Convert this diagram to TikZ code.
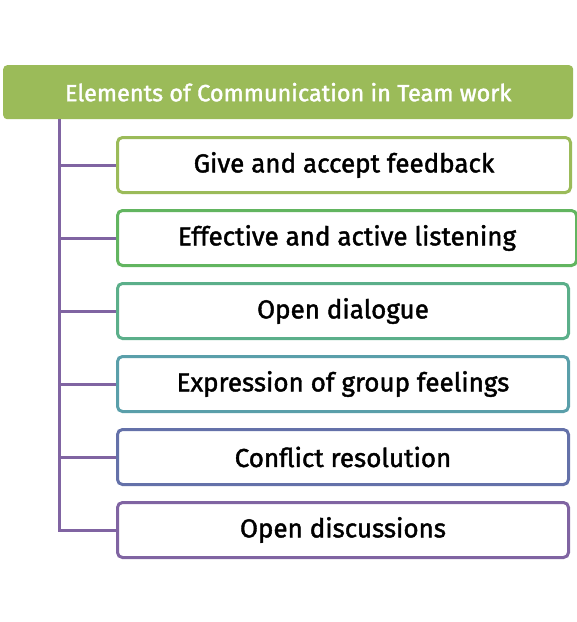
\documentclass[tikz,border=0pt]{standalone}
\usepackage{fontspec}
\setmainfont{Fira Sans}
\newfontfamily\medfont{Fira Sans}[FakeBold=1.6]
\usetikzlibrary{positioning}

\definecolor{headgreen}{HTML}{9BBB59}
\definecolor{itemA}{HTML}{9BBB59}
\definecolor{itemB}{HTML}{62B560}
\definecolor{itemC}{HTML}{5BAF8A}
\definecolor{itemD}{HTML}{5A9FAA}
\definecolor{itemE}{HTML}{6471A9}
\definecolor{itemF}{HTML}{8064A2}
\definecolor{branchpurple}{HTML}{8064A2}

\tikzset{
  headbox/.style={fill=headgreen, rounded corners=4pt, anchor=north west,
    minimum width=570pt, minimum height=54pt, text=white,
    font=\medfont\fontsize{23.5}{27}\selectfont},
  itembox/.style={draw=#1, line width=3pt, rounded corners=5pt, fill=white,
    anchor=west, minimum height=55pt, text=black,
    font=\medfont\fontsize{26}{30}\selectfont},
  branch/.style={draw=branchpurple, line width=3pt},
}

\begin{document}
\begin{tikzpicture}[x=1pt, y=-1pt]
  \useasboundingbox (0,0) rectangle (577,622);

  \node[headbox] (head) at (3,65) {Elements of Communication in Team work};

  \node[itembox=itemA, minimum width=453pt] (give) at (116,165) {Give and accept feedback};
  \node[itembox=itemB, minimum width=459pt] (listen) at (116,238) {Effective and active listening};
  \node[itembox=itemC, minimum width=451pt] (dialogue) at (116,311) {Open dialogue};
  \node[itembox=itemD, minimum width=451pt] (feelings) at (116,384) {Expression of group feelings};
  \node[itembox=itemE, minimum width=451pt] (conflict) at (116,457) {Conflict resolution};
  \node[itembox=itemF, minimum width=451pt] (discuss) at (116,530) {Open discussions};

  \coordinate (trunk) at (59,119);

  \draw[branch] (trunk) |- (give.west);
  \draw[branch] (trunk) |- (listen.west);
  \draw[branch] (trunk) |- (dialogue.west);
  \draw[branch] (trunk) |- (feelings.west);
  \draw[branch] (trunk) |- (conflict.west);
  \draw[branch] (trunk) |- (discuss.west);
\end{tikzpicture}
\end{document}
